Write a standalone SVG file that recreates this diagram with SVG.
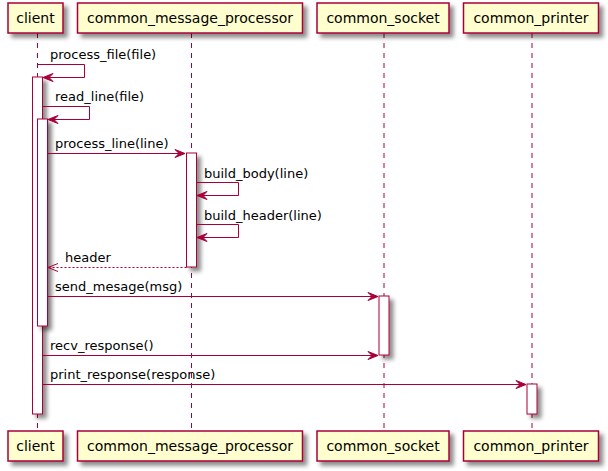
<svg xmlns="http://www.w3.org/2000/svg" width="608" height="471" viewBox="0 0 608 471">
<defs>
<filter id="sh" x="-1" y="-1" width="300%" height="300%">
<feGaussianBlur in="SourceAlpha" stdDeviation="2" result="b"/>
<feColorMatrix in="b" type="matrix" values="0 0 0 0 0  0 0 0 0 0  0 0 0 0 0  0 0 0 0.45 0" result="c"/>
<feOffset in="c" dx="4" dy="4" result="o"/>
<feMerge><feMergeNode in="o"/><feMergeNode in="SourceGraphic"/></feMerge>
</filter>
</defs>
<style>
.life{stroke:#A80036;stroke-width:1;stroke-dasharray:5,5;fill:none}
.box{fill:#FEFECE;stroke:#A80036;stroke-width:1.5;filter:url(#sh)}
.act{fill:#FFFFFF;stroke:#A80036;stroke-width:1;filter:url(#sh)}
.pt{font-family:"DejaVu Sans",sans-serif;font-size:14px;fill:#000;text-anchor:middle}
.mt{font-family:"DejaVu Sans",sans-serif;font-size:13px;fill:#000}
.ln{stroke:#A80036;stroke-width:1;fill:none}
.dl{stroke:#A80036;stroke-width:1;fill:none;stroke-dasharray:2,2}
.ah{fill:#A80036;stroke:#A80036;stroke-width:1}
</style>
<rect width="608" height="471" fill="#FFFFFF"/>
<g id="lifelines">
<line class="life" x1="37.5" y1="33" x2="37.5" y2="431"/>
<line class="life" x1="191.5" y1="33" x2="191.5" y2="431"/>
<line class="life" x1="384" y1="33" x2="384" y2="431"/>
<line class="life" x1="532" y1="33" x2="532" y2="431"/>
</g>
<g id="activations">
<rect class="act" x="32.5" y="77" width="10" height="337"/>
<rect class="act" x="37.5" y="119" width="10" height="207"/>
<rect class="act" x="186.5" y="153" width="10" height="114"/>
<rect class="act" x="379" y="296" width="10" height="59"/>
<rect class="act" x="527" y="384" width="10" height="30"/>
</g>
<g id="client">
<rect class="box" x="8" y="3" width="55" height="30"/>
<text class="pt" x="35.5" y="23">client</text>
<rect class="box" x="8" y="431" width="55" height="30"/>
<text class="pt" x="35.5" y="451">client</text>
</g>
<g id="common_message_processor">
<rect class="box" x="77.5" y="3" width="225" height="30"/>
<text class="pt" x="190" y="23">common_message_processor</text>
<rect class="box" x="77.5" y="431" width="225" height="30"/>
<text class="pt" x="190" y="451">common_message_processor</text>
</g>
<g id="common_socket">
<rect class="box" x="317" y="3" width="132" height="30"/>
<text class="pt" x="383" y="23">common_socket</text>
<rect class="box" x="317" y="431" width="132" height="30"/>
<text class="pt" x="383" y="451">common_socket</text>
</g>
<g id="common_printer">
<rect class="box" x="463.5" y="3" width="135" height="30"/>
<text class="pt" x="531" y="23">common_printer</text>
<rect class="box" x="463.5" y="431" width="135" height="30"/>
<text class="pt" x="531" y="451">common_printer</text>
</g>
<g id="connectors">
<polyline class="ln" points="37.5,64.5 84.5,64.5 84.5,77.5 44,77.5"/>
<polygon class="ah" points="53,73.5 43,77.5 53,81.5 49,77.5"/>
<text class="mt" x="50" y="59">process_file(file)</text>

<polyline class="ln" points="42.5,106.5 89.5,106.5 89.5,119.5 49,119.5"/>
<polygon class="ah" points="58,115.5 48,119.5 58,123.5 54,119.5"/>
<text class="mt" x="55" y="101">read_line(file)</text>

<line class="ln" x1="47.5" y1="153.5" x2="184" y2="153.5"/>
<polygon class="ah" points="175,149.5 185,153.5 175,157.5 179,153.5"/>
<text class="mt" x="55" y="148">process_line(line)</text>

<polyline class="ln" points="196.5,182.5 238.5,182.5 238.5,195.5 198,195.5"/>
<polygon class="ah" points="207,191.5 197,195.5 207,199.5 203,195.5"/>
<text class="mt" x="204" y="178">build_body(line)</text>

<polyline class="ln" points="196.5,224.5 238.5,224.5 238.5,237.5 198,237.5"/>
<polygon class="ah" points="207,233.5 197,237.5 207,241.5 203,237.5"/>
<text class="mt" x="204" y="220">build_header(line)</text>

<line class="dl" x1="186.5" y1="267.5" x2="49" y2="267.5"/>
<polyline class="ln" points="58,263.5 48,267.5 58,271.5"/>
<text class="mt" x="65" y="262">header</text>

<line class="ln" x1="47.5" y1="296.5" x2="377" y2="296.5"/>
<polygon class="ah" points="368,292.5 378,296.5 368,300.5 372,296.5"/>
<text class="mt" x="55" y="291">send_mesage(msg)</text>

<line class="ln" x1="42.5" y1="355.5" x2="377" y2="355.5"/>
<polygon class="ah" points="368,351.5 378,355.5 368,359.5 372,355.5"/>
<text class="mt" x="50" y="350">recv_response()</text>

<line class="ln" x1="42.5" y1="384.5" x2="525" y2="384.5"/>
<polygon class="ah" points="516,380.5 526,384.5 516,388.5 520,384.5"/>
<text class="mt" x="50" y="379">print_response(response)</text>
</g>
</svg>
